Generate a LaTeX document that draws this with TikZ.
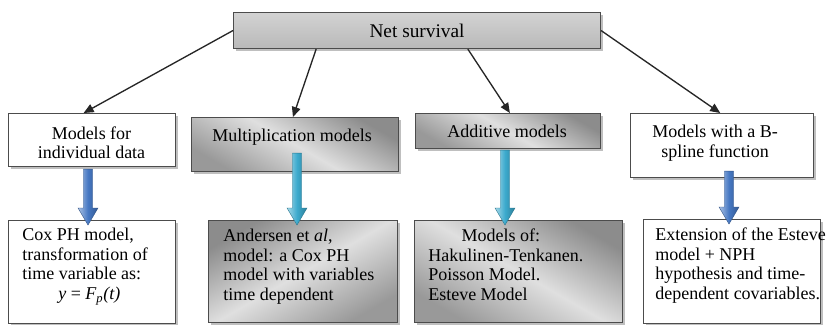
\documentclass[tikz,border=0pt]{standalone}
\usepackage{fontspec}
\setmainfont{Liberation Serif}
\usetikzlibrary{arrows.meta,shadows,calc}
\newdimen\pxu \pxu=0.75pt
\definecolor{arrblue}{RGB}{70,120,195}
\definecolor{arrcyan}{RGB}{60,170,205}
\newcommand\blockarrow[3]{%
  \path[left color=#3!45!white, right color=#3!75!black, middle color=#3, draw=#3!70!black, line width=0.3pt]
    let \p1=(#1), \p2=(#2) in
    (\x1-3.4pt,\y1) -- (\x1+3.4pt,\y1) -- (\x1+3.4pt,\y2+9pt) -- (\x1+7.5pt,\y2+9pt)
    -- (\x1,\y2-3.75pt) -- (\x1-7.5pt,\y2+9pt) -- (\x1-3.4pt,\y2+9pt) -- cycle;}
\begin{document}
\begin{tikzpicture}[x=0.75pt,y=-0.75pt,
  box/.style={draw=black!70, line width=0.8pt, inner sep=0, anchor=north west,
    drop shadow={shadow xshift=1.8pt, shadow yshift=-1.8pt, opacity=0.25, fill=black}},
  whitebox/.style={box, fill=white},
  metal/.style={box, shading=axis, top color=gray!90, bottom color=gray!80,
    middle color=gray!25, shading angle=#1},
  txt/.style={font=\fontsize{13.5}{14.6}\selectfont, inner sep=0, align=left, anchor=north west},
  ctxt/.style={font=\fontsize{13.5}{14.6}\selectfont, inner sep=0, align=center},
  link/.style={-{Triangle[length=7.5pt,width=6.5pt]}, line width=1pt, black!85}
]
\useasboundingbox (0,0) rectangle (833,325);
\fill[white] (0,0) rectangle (833,325);

% top box
\node[box, shading=axis, top color=gray!35, middle color=gray!5, bottom color=gray!55,
  minimum width=367\pxu, minimum height=36\pxu] (net) at (233,12) {};
\node[font=\fontsize{14.5}{16}\selectfont, inner sep=0] (tnet) at (net.center) {Net survival};

% second row
\node[whitebox, minimum width=167\pxu, minimum height=53\pxu] (b1) at (8,113) {};
\node[metal=-30, minimum width=207\pxu, minimum height=54\pxu] (b2) at (191,117) {};
\node[metal=-30, minimum width=185\pxu, minimum height=35\pxu] (b3) at (415,113) {};
\node[whitebox, minimum width=183\pxu, minimum height=64\pxu] (b4) at (630,113) {};

% third row
\node[whitebox, minimum width=167\pxu, minimum height=103\pxu] (b5) at (8,220) {};
\node[metal=30, minimum width=189\pxu, minimum height=102\pxu] (b6) at (208,220) {};
\node[metal=-30, minimum width=208\pxu, minimum height=102\pxu] (b7) at (414,220) {};
\node[whitebox, minimum width=177\pxu, minimum height=104\pxu] (b8) at (643,219) {};

% texts
\node[ctxt] (t1) at (91.5,143) {Models for\\individual data};
\node[ctxt] (t2) at (292,137) {Multiplication models};
\node[ctxt] (t3) at (507,131) {Additive models};
\node[ctxt] (t4) at (715,143) {Models with a B-\\spline function};
\node[txt] (t5) at (22,228) {Cox PH model,\\transformation of\\time variable as:\\\hspace*{27pt}\textit{y} = \textit{F\textsubscript{p}(t)}};
\node[txt] (t6) at (223,229) {Andersen et \textit{al},\\model: a Cox PH\\model with variables\\time dependent};
\node[txt] (t7) at (428,229) {\hspace*{25pt}Models of:\\Hakulinen-Tenkanen.\\Poisson Model.\\Esteve Model};
\node[txt] (t8) at (655,228) {Extension of the Esteve\\model + NPH\\hypothesis and time-\\dependent covariables.};

% connectors
\draw[link] (net.west) -- ($(b1.north west)!0.45!(b1.north east)$);
\draw[link] ($(net.south west)!0.226!(net.south east)$) -- ($(b2.north west)!0.49!(b2.north east)$);
\draw[link] ($(net.south west)!0.638!(net.south east)$) -- ($(b3.north west)!0.51!(b3.north east)$);
\draw[link] (net.east) -- ($(b4.north west)!0.49!(b4.north east)$);

% block arrows
\blockarrow{$(b1.south west)+(80,2)$}{b5.north}{arrblue}
\blockarrow{$(b2.south west)+(106,-19)$}{b6.north}{arrcyan}
\blockarrow{$(b3.south west)+(90,1)$}{b7.north}{arrcyan}
\blockarrow{$(b4.south west)+(99,-7)$}{b8.north}{arrblue}
\end{tikzpicture}
\end{document}
